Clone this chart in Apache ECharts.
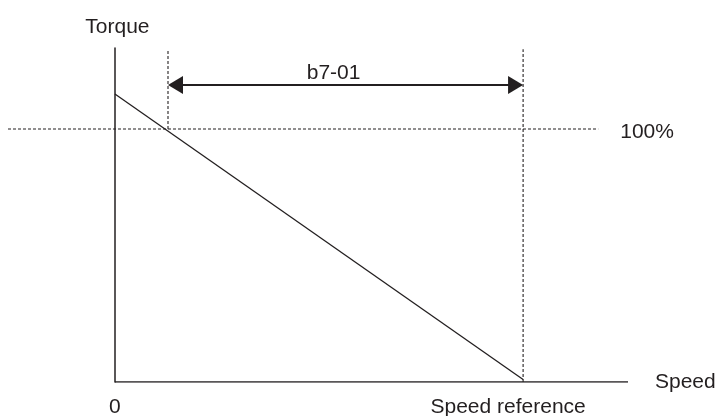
<!DOCTYPE html>
<html>
<head>
<meta charset="utf-8">
<script src="https://cdn.jsdelivr.net/npm/echarts@6/dist/echarts.min.js"></script>
<style>
	html, body { margin: 0; padding: 0; background: #fff; }
	#myChart { width: 717px; height: 416px; }
</style>
</head>
<body>
<div id="myChart"></div>
<script>
// x in % of speed reference, y in % of rated torque
var speedPoints = [0, 100];
var torquePoints = [113.8, 1];
var ratedLevel = 100;
var ratedSpan = [-26.2, 118.4];
var b7Start = 13;
var speedRef = 100;
var speedEnd = 125.7;
var guideTop = 131.5;
var arrowLevel = 117.4;
var tickValues = [0, 100];
var tickLabels = ['0', 'Speed reference'];

(function() {
	'use strict';
	var ink = '#231f20';
	var font = 'Liberation Sans, Arial, sans-serif';
	var dash = { color : ink, width : 1.1, type : [ 3, 2 ] };
	// arrowhead is centred on its end point, pull it in by half its length (7.5px at ~4.08px/unit)
	var arrowInset = 1.84;

	var myChart = echarts.init(document.getElementById('myChart'));

	var slope = [];
	for (var i = 0; i < speedPoints.length; i++) {
		slope.push([speedPoints[i], torquePoints[i]]);
	}
	var ticks = [];
	for (var j = 0; j < tickValues.length; j++) {
		ticks.push({ value : [ tickValues[j], 0 ], name : tickLabels[j] });
	}

	var option = {
		animation : false,
		grid : {
			left : 8,
			right : 89,
			top : 48,
			bottom : 34,
			containLabel : false,
			outerBoundsMode : 'none'
		},
		xAxis : {
			type : 'value',
			min : ratedSpan[0],
			max : speedEnd,
			name : 'Speed',
			nameLocation : 'end',
			nameGap : 27,
			nameTextStyle : { color : ink, fontSize : 21, fontFamily : font },
			splitLine : { show : false },
			axisTick : { show : false },
			axisLine : { show : false },
			axisLabel : { show : false }
		},
		yAxis : {
			type : 'value',
			min : 0,
			max : 132,
			name : 'Torque',
			nameLocation : 'end',
			nameGap : 10,
			nameTextStyle : { color : ink, fontSize : 21, fontFamily : font, align : 'center', padding : [ 0, 0, 0, 5 ] },
			splitLine : { show : false },
			axisTick : { show : false },
			axisLabel : { show : false },
			axisLine : { onZero : true, lineStyle : { color : ink, width : 1.5 } }
		},
		series : [ {
			name : 'speed axis',
			type : 'line',
			data : [ [ 0, 0 ], [ speedEnd, 0 ] ],
			showSymbol : false,
			lineStyle : { color : ink, width : 1.5 }
		}, {
			name : 'ticks',
			type : 'scatter',
			data : ticks,
			symbolSize : 0,
			itemStyle : { color : ink, opacity : 1 },
			label : {
				show : true,
				position : 'bottom',
				distance : 15,
				formatter : function(p) {
					return p.name;
				},
				color : ink,
				opacity : 1,
				fontSize : 21,
				fontFamily : font
			},
			labelLayout : function(p) {
				return p.dataIndex === 1 ? { dx : -15 } : {};
			}
		}, {
			name : 'torque',
			type : 'line',
			data : slope,
			showSymbol : false,
			lineStyle : { color : ink, width : 1.3 }
		}, {
			name : '100%',
			type : 'line',
			data : [ [ ratedSpan[0], ratedLevel ], [ ratedSpan[1], ratedLevel ] ],
			showSymbol : false,
			lineStyle : dash,
			endLabel : {
				show : true,
				formatter : '100%',
				color : ink,
				fontSize : 21,
				fontFamily : font,
				distance : 22,
				offset : [ 0, 3 ]
			}
		}, {
			name : 'b7 start',
			type : 'line',
			data : [ [ b7Start, ratedLevel ], [ b7Start, guideTop ] ],
			showSymbol : false,
			lineStyle : dash,
			markLine : {
				silent : true,
				symbol : [ 'triangle', 'triangle' ],
				symbolSize : [ 18, 15 ],
				lineStyle : { color : ink, width : 2, type : 'solid' },
				label : {
					show : true,
					position : 'middle',
					formatter : 'b7-01',
					color : ink,
					fontSize : 21,
					fontFamily : font,
					distance : 1,
					offset : [ -12, 0 ]
				},
				data : [ [ { coord : [ b7Start + arrowInset, arrowLevel ] }, { coord : [ speedRef - arrowInset, arrowLevel ] } ] ]
			}
		}, {
			name : 'speed ref',
			type : 'line',
			data : [ [ speedRef, 0 ], [ speedRef, guideTop ] ],
			showSymbol : false,
			lineStyle : dash
		} ]
	};

	myChart.setOption(option);
})();
</script>
</body>
</html>
